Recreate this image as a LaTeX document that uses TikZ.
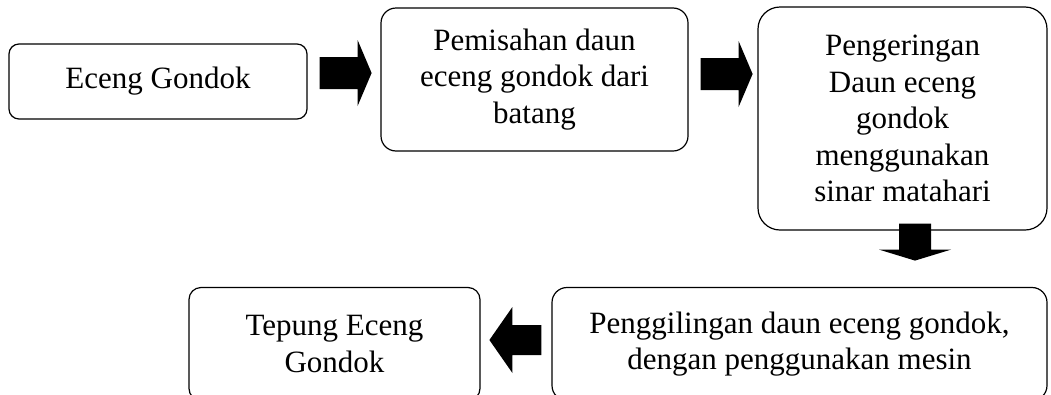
\documentclass[tikz,border=0pt]{standalone}
\usepackage{fontspec}
\setmainfont{Liberation Serif}
\newcommand\boxfont{\fontsize{31}{36.5}\selectfont}
\begin{document}
\begin{tikzpicture}[x=1pt,y=-1pt,
  box/.style={draw, line width=1.2pt, align=center, font=\boxfont, inner sep=0pt},
  arrowfill/.style={fill=black}]
\useasboundingbox (0,0) rectangle (1051,394);
\clip (0,0) rectangle (1051,394);
\node[box, rounded corners=10pt, minimum width=298, minimum height=75] (n1) at (158,81.5) {Eceng Gondok};
\node[box, rounded corners=15pt, minimum width=307, minimum height=143] (n2) at (534.5,79.5) {Pemisahan daun\\eceng gondok dari\\batang};
\node[box, rounded corners=22pt, minimum width=289, minimum height=223] (n3) at (902.5,118.5) {Pengeringan\\Daun eceng\\gondok\\menggunakan\\sinar matahari};
\node[box, rounded corners=15pt, minimum width=495, minimum height=113] (n4) at (799.5,344) {Penggilingan daun eceng gondok,\\dengan penggunakan mesin};
\node[box, rounded corners=12pt, minimum width=291, minimum height=113] (n5) at (334.5,344) {Tepung Eceng\\Gondok};
% block arrows
\coordinate (a1) at ([xshift=12pt]n1.east |- 0,73);
\coordinate (a2) at ([xshift=12pt]n2.east |- 0,74);
\coordinate (a3) at ([yshift=7pt]n3.south -| 915,0);
\coordinate (a4) at ([xshift=-10pt]n4.west |- 0,340);
\fill[arrowfill] (a1) ++(0,-16) -- ++(38,0) -- ++(0,-17) -- ++(14,33) -- ++(-14,33) -- ++(0,-17) -- ++(-38,0) -- cycle;
\fill[arrowfill] (a2) ++(0,-16) -- ++(38,0) -- ++(0,-17) -- ++(14,33) -- ++(-14,33) -- ++(0,-17) -- ++(-38,0) -- cycle;
\fill[arrowfill] (a3) ++(-16,0) -- ++(0,26) -- ++(-20,0) -- ++(36,11) -- ++(36,-11) -- ++(-20,0) -- ++(0,-26) -- cycle;
\fill[arrowfill] (a4) ++(0,-15) -- ++(-29,0) -- ++(0,-18) -- ++(-23,33) -- ++(23,33) -- ++(0,-18) -- ++(29,0) -- cycle;
\end{tikzpicture}
\end{document}
